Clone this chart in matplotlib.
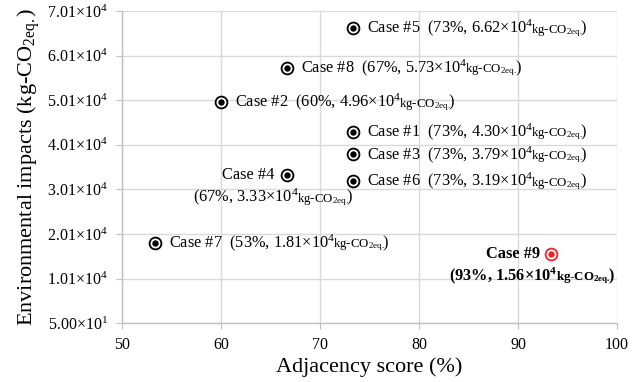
import matplotlib
matplotlib.use("Agg")
import matplotlib.pyplot as plt
from matplotlib.offsetbox import AnnotationBbox, HPacker, TextArea

plt.rcParams["font.family"] = ["Liberation Serif", "DejaVu Serif"]
plt.rcParams["mathtext.fontset"] = "custom"
plt.rcParams["mathtext.rm"] = "Liberation Serif"
plt.rcParams["mathtext.it"] = "Liberation Serif:italic"
plt.rcParams["mathtext.bf"] = "Liberation Serif:bold"

# data
cases = ["Case #1", "Case #2", "Case #3", "Case #4", "Case #5",
         "Case #6", "Case #7", "Case #8", "Case #9"]
adjacency = [73.3, 60.0, 73.3, 66.7, 73.3, 73.3, 53.3, 66.7, 93.3]
impacts = [43000, 49600, 37900, 33300, 66200, 31900, 18100, 57300, 15600]
pct_labels = ["73%", "60%", "73%", "67%", "73%", "73%", "53%", "67%", "93%"]
value_labels = ["4.30", "4.96", "3.79", "3.33", "6.62", "3.19", "1.81", "5.73", "1.56"]

y_ticks = [50, 10050, 20050, 30050, 40050, 50050, 60050, 70050]
y_tick_labels = ["5.00×10$^{1}$", "1.01×10$^{4}$", "2.01×10$^{4}$", "3.01×10$^{4}$",
                 "4.01×10$^{4}$", "5.01×10$^{4}$", "6.01×10$^{4}$", "7.01×10$^{4}$"]
x_ticks = [50, 60, 70, 80, 90, 100]

GRID = "#d9d9d9"
AXIS = "#bfbfbf"
MAIN = 11.8
SMALL = 9.3


def value_box(prefix, pct, val, bold=False):
    weight = "bold" if bold else "normal"
    if bold:
        head = f"{prefix}({pct}, {val}×10$^{{\\mathbf{{4}}}}$"
        unit = "kg-CO$_{\\mathbf{2eq.}}$"
    else:
        head = f"{prefix}({pct}, {val}×10$^{{4}}$"
        unit = "kg-CO$_{\\mathrm{2eq.}}$"
    parts = [
        TextArea(head, textprops=dict(fontsize=MAIN, fontweight=weight)),
        TextArea(unit, textprops=dict(fontsize=SMALL, fontweight=weight)),
        TextArea(")", textprops=dict(fontsize=MAIN, fontweight=weight)),
    ]
    return HPacker(children=parts, align="baseline", pad=0, sep=-1.5)


def place(ax, box, x, y, dx, dy, align=(0, 0.5)):
    ab = AnnotationBbox(box, (x, y), xybox=(dx, dy), xycoords="data",
                        boxcoords="offset points", box_alignment=align,
                        frameon=False, pad=0, zorder=5)
    ax.add_artist(ab)


fig = plt.figure(figsize=(6.4, 3.82), dpi=100)
ax = fig.add_axes([0.1906, 0.154, 0.7735, 0.817])

for i, name in enumerate(cases):
    color = "#e8262a" if name == "Case #9" else "black"
    ax.plot(adjacency[i], impacts[i], marker="o", markersize=8.5, mfc="white",
            mec=color, mew=1.3, zorder=3)
    ax.plot(adjacency[i], impacts[i], marker="o", markersize=4.6, mfc=color,
            mec=color, mew=0, zorder=4)

for i, name in enumerate(cases):
    x, y = adjacency[i], impacts[i]
    if name == "Case #4":
        ax.annotate(name, (x, y), xytext=(-9.5, 0), textcoords="offset points",
                    fontsize=MAIN, ha="right", va="center")
        place(ax, value_box("", pct_labels[i], value_labels[i]), x, y, -68, -16)
    elif name == "Case #9":
        ax.annotate(name, (x, y), xytext=(-7.5, 0), textcoords="offset points",
                    fontsize=MAIN, ha="right", va="center", fontweight="bold")
        place(ax, value_box("", pct_labels[i], value_labels[i], bold=True),
              x, y, -73, -16)
    else:
        place(ax, value_box(name + "  ", pct_labels[i], value_labels[i]), x, y, 10, 0)

ax.set_xlim(50, 100)
ax.set_ylim(50, 70050)
ax.set_xticks(x_ticks)
ax.set_yticks(y_ticks)
ax.set_yticklabels(y_tick_labels)
ax.tick_params(axis="both", labelsize=11.5, color=AXIS, length=4, width=0.8)
ax.tick_params(axis="y", pad=6)
ax.tick_params(axis="x", pad=6)
ax.grid(True, color=GRID, linewidth=1)
ax.set_axisbelow(True)
for side in ["top", "right"]:
    ax.spines[side].set_visible(False)
for side in ["left", "bottom"]:
    ax.spines[side].set_color(AXIS)
    ax.spines[side].set_linewidth(1)

ax.set_xlabel("Adjacency score (%)", fontsize=16, labelpad=3)
ax.set_ylabel("Environmental impacts (kg-CO$_{\\mathrm{2eq.}}$)", fontsize=16, labelpad=4)

fig.savefig("out.png", dpi=100)
